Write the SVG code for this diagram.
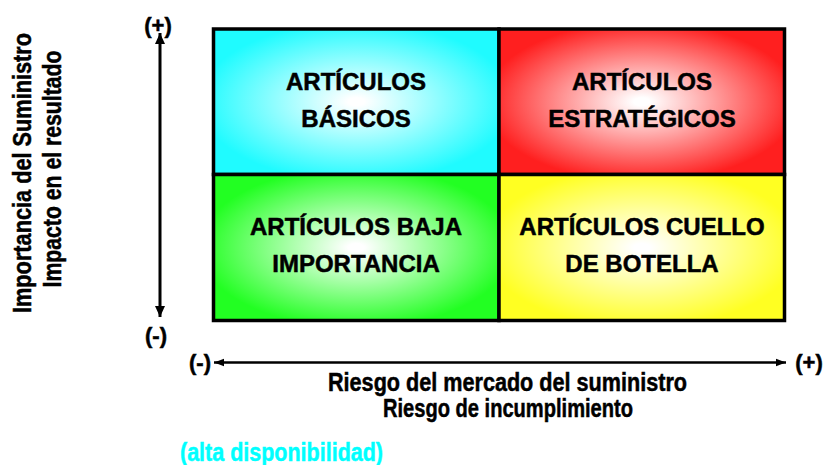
<svg xmlns="http://www.w3.org/2000/svg" width="824" height="465" viewBox="0 0 824 465">
<style>
.q{font-family:"Liberation Sans",Arial,sans-serif;font-weight:bold;font-size:24px;fill:#000;stroke:#000;stroke-width:0.5;text-anchor:middle}
.ax{font-family:"Liberation Sans",Arial,sans-serif;font-weight:bold;font-size:25px;fill:#000;stroke:#000;stroke-width:0.5;text-anchor:middle}
.pm{font-family:"Liberation Sans",Arial,sans-serif;font-weight:bold;font-size:22px;fill:#000;stroke:#000;stroke-width:0.5;text-anchor:middle}
.cyan{fill:#00ffff;stroke:#00ffff}
.cell{stroke:#000;stroke-width:3.5}
.arr{stroke:#000;fill:none}
</style>
<defs>
<radialGradient id="gc" cx="0.5" cy="0.5" r="0.55"><stop offset="0.05" stop-color="#fff"/><stop offset="1" stop-color="#1ffbff"/></radialGradient>
<radialGradient id="gr" cx="0.5" cy="0.5" r="0.55"><stop offset="0.05" stop-color="#fff"/><stop offset="1" stop-color="#ff1f1f"/></radialGradient>
<radialGradient id="gg" cx="0.5" cy="0.5" r="0.55"><stop offset="0.05" stop-color="#fff"/><stop offset="1" stop-color="#22ff22"/></radialGradient>
<radialGradient id="gy" cx="0.5" cy="0.5" r="0.55"><stop offset="0.05" stop-color="#fff"/><stop offset="1" stop-color="#ffff22"/></radialGradient>
<marker id="hv" markerUnits="userSpaceOnUse" markerWidth="12" markerHeight="12" viewBox="0 0 12 12" refX="11" refY="6" orient="auto-start-reverse"><path d="M0,1 L11,6 L0,11 Z" fill="#000"/></marker>
<marker id="hh" markerUnits="userSpaceOnUse" markerWidth="11" markerHeight="10" viewBox="0 0 11 10" refX="10" refY="5" orient="auto-start-reverse"><path d="M0,1.3 L10,5 L0,8.7 Z" fill="#000"/></marker>
</defs>

<g id="basicos">
<rect class="cell" x="213.5" y="29" width="285.5" height="145.5" fill="url(#gc)"/>
<text class="q" x="356" y="90">ARTÍCULOS</text>
<text class="q" x="356" y="127">BÁSICOS</text>
</g>
<g id="estrategicos">
<rect class="cell" x="499" y="29" width="285.5" height="145.5" fill="url(#gr)"/>
<text class="q" x="642" y="90">ARTÍCULOS</text>
<text class="q" x="642" y="127">ESTRATÉGICOS</text>
</g>
<g id="baja">
<rect class="cell" x="213.5" y="174.5" width="285.5" height="146" fill="url(#gg)"/>
<text class="q" x="356" y="235">ARTÍCULOS BAJA</text>
<text class="q" x="356" y="272">IMPORTANCIA</text>
</g>
<g id="cuello">
<rect class="cell" x="499" y="174.5" width="285.5" height="146" fill="url(#gy)"/>
<text class="q" x="642" y="235">ARTÍCULOS CUELLO</text>
<text class="q" x="642" y="272">DE BOTELLA</text>
</g>

<g id="connectors">
<line class="arr" x1="160" y1="33" x2="160" y2="317" stroke-width="3" marker-start="url(#hv)" marker-end="url(#hv)"/>
<line class="arr" x1="214" y1="362.5" x2="786" y2="362.5" stroke-width="2.5" marker-start="url(#hh)" marker-end="url(#hh)"/>
</g>

<g id="axis-y">
<text class="pm" x="158" y="33">(+)</text>
<text class="pm" x="156" y="343">(-)</text>
<text class="ax" transform="translate(31,173) rotate(-90)" x="0" y="0" textLength="280" lengthAdjust="spacingAndGlyphs">Importancia del Suministro</text>
<text class="ax" transform="translate(61,169) rotate(-90)" x="0" y="0" textLength="237" lengthAdjust="spacingAndGlyphs">Impacto en el resultado</text>
</g>
<g id="axis-x">
<text class="pm" x="200" y="370">(-)</text>
<text class="pm" x="809" y="370">(+)</text>
<text class="ax" x="507.5" y="391" textLength="359" lengthAdjust="spacingAndGlyphs">Riesgo del mercado del suministro</text>
<text class="ax" x="508" y="417" textLength="250" lengthAdjust="spacingAndGlyphs">Riesgo de incumplimiento</text>
<text class="ax cyan" x="281.5" y="461" textLength="203" lengthAdjust="spacingAndGlyphs">(alta disponibilidad)</text>
</g>
</svg>
